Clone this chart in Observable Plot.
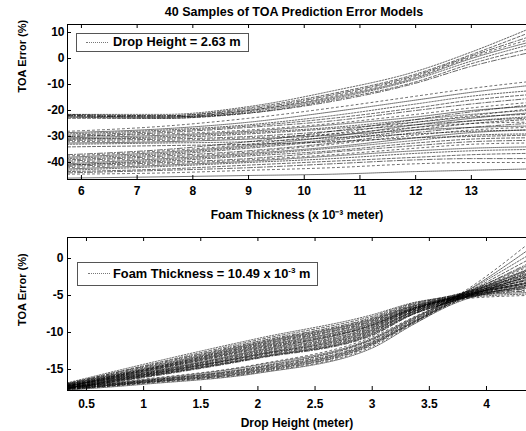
<!DOCTYPE html>
<html><head><meta charset="utf-8">
<script src="https://cdn.jsdelivr.net/npm/d3@7"></script>
<script src="https://cdn.jsdelivr.net/npm/@observablehq/plot@0.6"></script>
<style>
html,body{margin:0;padding:0;background:#fff;}
#wrap{position:relative;width:526px;height:431px;overflow:hidden;font-family:"Liberation Sans",Arial,sans-serif;font-weight:bold;color:#000;background:#fff;}
#title{position:absolute;left:0;width:588px;top:5px;line-height:14px;text-align:center;font-size:12.5px;}
.leg{position:absolute;border:1px solid #555;background:#fff;box-sizing:border-box;}
.leg .txt{position:absolute;font-size:12.8px;white-space:nowrap;line-height:14px;}
.leg .smp{position:absolute;height:0;border-top:1px dotted #777;}
.leg sup{font-size:8px;line-height:0;vertical-align:5px;}
#wrap svg{position:absolute;left:0;max-width:none !important;overflow:hidden;}
</style>
</head><body>
<div id="wrap">
  <div id="title">40 Samples of TOA Prediction Error Models</div>
</div>
<script>
// ---------- data ----------
const titleText = "40 Samples of TOA Prediction Error Models";
const topXLabel = "Foam Thickness (x 10⁻³ meter)";
const bottomXLabel = "Drop Height (meter)";
const yLabel = "TOA Error (%)";
const topLegend = "Drop Height = 2.63 m";
const bottomLegendMain = "Foam Thickness = 10.49 x 10";
const bottomLegendSup = "-3";
const bottomLegendUnit = " m";

const topXTicks = [6, 7, 8, 9, 10, 11, 12, 13];
const topYTicks = [10, 0, -10, -20, -30, -40];
const bottomXTicks = [0.5, 1, 1.5, 2, 2.5, 3, 3.5, 4];
const bottomYTicks = [0, -5, -10, -15];

// foam thickness sample points (x 10^-3 m)
const topX = [5.75, 7.5, 9, 10.5, 12, 13, 13.99];
const topUpper = [
  [-21.5, -21.5, -18.5, -12.5, -5, 2.5, 11],
  [-21.5, -22, -19, -13.5, -6, 1.5, 9.5],
  [-22, -22, -19.5, -14, -6.5, 1, 8],
  [-22, -22.5, -20, -14.5, -7, 0.5, 7],
  [-22.5, -22.5, -20, -15, -7.5, 0, 6],
  [-22.5, -23, -20.5, -15.5, -8, -1, 5],
  [-23, -23, -21, -16, -9, -2, 3.5],
  [-22, -22.5, -21, -16.5, -9.5, -3, 2]
];
const topMiddle = [
  [-28, -26, -23, -19, -14.5, -11.5, -9],
  [-28.5, -27, -24.5, -20.5, -16, -13, -10.5],
  [-29, -27.5, -25.5, -22, -17.5, -14.5, -12.5],
  [-29.5, -28, -26, -23, -19, -16, -14],
  [-30, -28.5, -26.5, -24, -20, -17.5, -15.5],
  [-30, -29, -27.5, -25, -21.5, -19, -17],
  [-30.5, -29.5, -28, -25.5, -22.5, -20, -18.5],
  [-31, -30, -28.5, -26.5, -23.5, -21.5, -20],
  [-31, -30.5, -29, -27, -24.5, -22.5, -21.5],
  [-31.5, -31, -30, -28, -25.5, -24, -23],
  [-32, -31.5, -30.5, -29, -26.5, -25, -24.5],
  [-32.5, -32, -31, -29.5, -27.5, -26.5, -26],
  [-33, -32.5, -32, -30.5, -29, -28, -27.5],
  [-34, -33.5, -33, -32, -30.5, -30, -29.5]
];
const topLower = [
  [-37, -35, -32, -28, -23.5, -20.5, -18],
  [-37.5, -35.5, -33, -29, -24.5, -22, -19.5],
  [-38, -36, -33.5, -30, -25.5, -23, -21],
  [-38.5, -36.5, -34, -31, -26.5, -24, -22.5],
  [-39, -37, -34.5, -31.5, -27.5, -25, -23.5],
  [-39.5, -37.5, -35.5, -32.5, -28.5, -26.5, -25],
  [-40, -38, -36, -33, -29.5, -27.5, -26.5],
  [-40.5, -38.5, -36.5, -34, -30.5, -28.5, -27.5],
  [-41, -39, -37, -34.5, -31.5, -29.5, -29],
  [-41, -39.5, -37.5, -35.5, -32.5, -31, -30.5],
  [-41.5, -40, -38.5, -36, -33.5, -32, -31.5],
  [-42, -40.5, -39, -37, -34.5, -33, -32.5],
  [-42.5, -41, -39.5, -37.5, -35.5, -34.5, -34],
  [-43, -41.5, -40, -38.5, -36.5, -35.5, -35],
  [-43.5, -42.5, -41, -39.5, -38, -37, -36.5],
  [-44, -43, -42, -40.5, -39, -38.5, -38.5],
  [-44.5, -44, -43, -42, -40.5, -40, -40],
  [-46, -45.5, -45, -44.5, -43.5, -43, -42.5]
];

// drop height sample points (m)
const bottomX = [0.334, 1, 2, 3, 3.35, 3.7, 4.35];
const bottomA = [
  [-16.8, -14.3, -10.8, -7.6, -6.0, -5.0, -1.5],
  [-16.9, -14.5, -11.0, -7.8, -6.1, -5.0, -2.2],
  [-16.9, -14.6, -11.2, -8.0, -6.2, -5.1, -2.6],
  [-17.0, -14.7, -11.3, -8.1, -6.3, -5.1, -3.0],
  [-17.0, -14.8, -11.4, -8.2, -6.4, -5.2, -3.3],
  [-17.0, -14.9, -11.5, -8.3, -6.5, -5.2, -3.6],
  [-17.1, -15.0, -11.6, -8.4, -6.5, -5.3, -3.9],
  [-17.1, -15.0, -11.7, -8.5, -6.6, -5.3, -4.1],
  [-17.1, -15.1, -11.8, -8.6, -6.7, -5.4, -4.3],
  [-17.2, -15.1, -11.9, -8.7, -6.7, -5.4, -4.6],
  [-17.2, -15.2, -12.0, -8.8, -6.8, -5.5, -4.8],
  [-17.2, -15.2, -12.1, -8.9, -6.8, -5.3, -3.4],
  [-17.3, -15.3, -12.2, -9.0, -6.9, -5.5, -4.4],
  [-17.3, -15.3, -12.3, -9.1, -7.0, -5.6, -5.0]
];
const bottomB = [
  [-17.2, -15.4, -12.4, -9.0, -6.8, -5.2, -1.0],
  [-17.2, -15.5, -12.5, -9.2, -6.9, -5.3, -1.6],
  [-17.3, -15.5, -12.6, -9.3, -7.0, -5.3, -2.0],
  [-17.3, -15.6, -12.7, -9.4, -7.0, -5.4, -2.3],
  [-17.3, -15.6, -12.8, -9.5, -7.1, -5.4, -2.6],
  [-17.4, -15.7, -12.9, -9.6, -7.2, -5.5, -2.8],
  [-17.4, -15.7, -13.0, -9.7, -7.2, -5.5, -3.0],
  [-17.4, -15.8, -13.0, -9.8, -7.3, -5.6, -3.2],
  [-17.5, -15.8, -13.1, -9.9, -7.3, -5.6, -3.4],
  [-17.5, -15.9, -13.2, -10.0, -7.4, -5.7, -3.6],
  [-17.5, -15.9, -13.3, -10.1, -7.5, -5.7, -3.8],
  [-17.5, -16.0, -13.4, -10.2, -7.5, -5.8, -4.0],
  [-17.6, -16.0, -13.4, -10.3, -7.6, -5.8, -2.4],
  [-17.6, -16.1, -13.5, -10.4, -7.6, -5.8, -1.8]
];
const bottomC = [
  [-17.3, -16.3, -14.3, -10.6, -8.0, -5.4, 1.8],
  [-17.4, -16.4, -14.4, -10.8, -8.1, -5.5, 1.0],
  [-17.4, -16.5, -14.6, -10.9, -8.2, -5.5, 0.3],
  [-17.5, -16.5, -14.7, -11.0, -8.3, -5.6, -0.3],
  [-17.5, -16.6, -14.8, -11.2, -8.4, -5.7, -0.8],
  [-17.6, -16.6, -14.9, -11.3, -8.5, -5.8, -1.2],
  [-17.6, -16.7, -15.0, -11.4, -8.6, -5.8, -1.7],
  [-17.6, -16.7, -15.1, -11.5, -8.7, -5.9, -2.1],
  [-17.7, -16.8, -15.2, -11.6, -8.7, -6.0, -2.5],
  [-17.7, -16.8, -15.3, -11.7, -8.8, -6.0, -2.9],
  [-17.7, -16.9, -15.4, -11.9, -8.9, -6.1, -3.3],
  [-17.8, -17.0, -15.5, -12.1, -9.0, -6.2, -3.7]
];

// ---------- build ----------
const dashes = ["1.5,1.5", "3,2", "5,2,1,2", "2,3", "1,1"];
function rows(xs, groups) {
  const out = []; let id = 0;
  for (const g of groups) for (const c of g) { c.forEach((y, i) => out.push({id, x: xs[i], y})); id++; }
  return out;
}
const font = {fontFamily: "'Liberation Sans', Arial, sans-serif", fontWeight: "bold", color: "#000", background: "transparent", overflow: "hidden", maxWidth: "none"};

function panel({data, xDomain, yDomain, xTicks, yTicks, xLabel, width, height, mt, mb, ml, mr, xPad, yPad, xLabelOffset, yLabelDy}) {
  const H = height - mt - mb, W = width - ml - mr;
  const lines = dashes.map((d, s) => Plot.line(data.filter(r => r.id % dashes.length === s), {
    x: "x", y: "y", z: "id", curve: "monotone-x", stroke: "#000", strokeWidth: 0.8,
    strokeOpacity: 0.75, strokeDasharray: d, clip: true
  }));
  const svg = Plot.plot({
    width, height, marginTop: mt, marginBottom: mb, marginLeft: ml, marginRight: mr,
    style: {...font, fontSize: "12px"},
    x: {domain: xDomain},
    y: {domain: yDomain},
    marks: [
      ...lines,
      Plot.tickX(xTicks, {x: d => d, insetTop: H - 4, stroke: "#000"}),
      Plot.tickX(xTicks, {x: d => d, insetBottom: H - 4, stroke: "#000"}),
      Plot.tickY(yTicks, {y: d => d, insetRight: W - 4, stroke: "#000"}),
      Plot.frame({stroke: "#000", strokeWidth: 1}),
      Plot.axisX(xTicks, {tickSize: 0, tickPadding: xPad, tickFormat: d => String(d), label: xLabel, labelAnchor: "center", labelArrow: false, labelOffset: xLabelOffset, fontSize: 12, fontWeight: "bold"}),
      Plot.axisY(yTicks, {tickSize: 0, tickPadding: yPad, tickFormat: d => String(d), label: null, fontSize: 12, fontWeight: "bold"}),
      Plot.text([yLabel], {frameAnchor: "left", dx: -45, dy: yLabelDy, rotate: -90, fontSize: 11, fontWeight: "bold", fill: "#000"})
    ]
  });
  svg.style.maxWidth = "none";
  svg.style.width = width + "px";
  svg.style.height = height + "px";
  return svg;
}

const wrap = document.getElementById("wrap");

const topSvg = panel({
  data: rows(topX, [topUpper, topMiddle, topLower]),
  xDomain: [5.75, 13.99], yDomain: [-46.54, 13.08],
  xTicks: topXTicks, yTicks: topYTicks, xLabel: topXLabel,
  width: 560, height: 226, mt: 24, mb: 47, ml: 67, mr: 34,
  xPad: 7, yPad: 3, xLabelOffset: 39, yLabelDy: -9.5
});
topSvg.style.top = "0px";
wrap.appendChild(topSvg);

const botSvg = panel({
  data: rows(bottomX, [bottomA, bottomB, bottomC]),
  xDomain: [0.334, 4.35], yDomain: [-17.84, 2.84],
  xTicks: bottomXTicks, yTicks: bottomYTicks, xLabel: bottomXLabel,
  width: 560, height: 209, mt: 15, mb: 41, ml: 67, mr: 34,
  xPad: 9, yPad: 4, xLabelOffset: 36, yLabelDy: 12
});
botSvg.style.top = "222px";
wrap.appendChild(botSvg);

// legends
function legend(left, top, w, h, html, sampleLeft, sampleTop, textLeft, textTop) {
  const d = document.createElement("div");
  d.className = "leg";
  Object.assign(d.style, {left: left + "px", top: top + "px", width: w + "px", height: h + "px"});
  const s = document.createElement("div");
  s.className = "smp";
  Object.assign(s.style, {left: sampleLeft + "px", top: sampleTop + "px", width: "22px"});
  const t = document.createElement("div");
  t.className = "txt";
  t.innerHTML = html;
  Object.assign(t.style, {left: textLeft + "px", top: textTop + "px"});
  d.appendChild(s); d.appendChild(t);
  wrap.appendChild(d);
}
legend(76, 33, 173, 19, topLegend, 9, 8, 36, 1);
legend(77, 262, 241, 24, bottomLegendMain + "<sup>" + bottomLegendSup + "</sup>" + bottomLegendUnit, 10, 10, 35, 4);
</script>
</body></html>
